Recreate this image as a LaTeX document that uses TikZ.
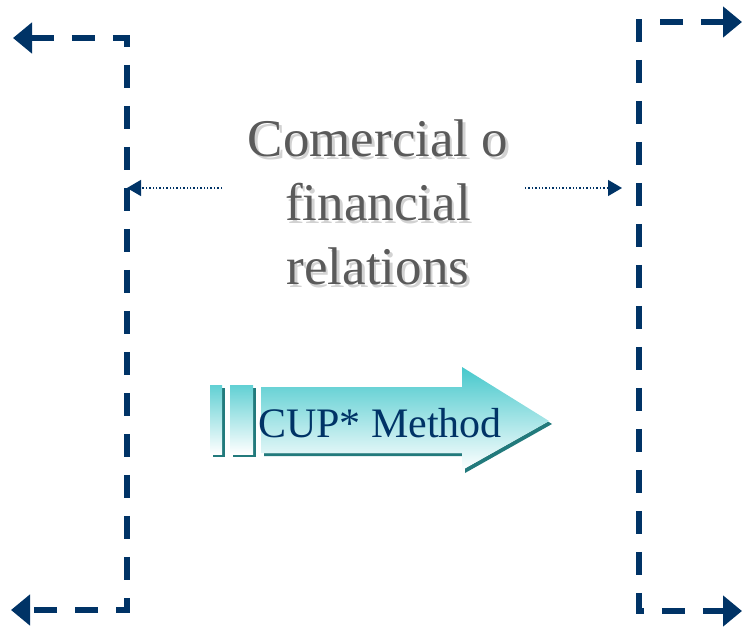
\documentclass[tikz,border=0pt]{standalone}
\usepackage{fontspec}
\setmainfont{Liberation Serif}
\usetikzlibrary{arrows.meta}

\definecolor{navy}{RGB}{0,51,102}
\definecolor{tealtop}{RGB}{70,200,204}
\definecolor{tealdark}{RGB}{34,122,124}
\definecolor{relgray}{RGB}{90,90,90}

% text with a soft grey shadow behind it
\newcommand{\shadowed}[1]{\makebox[0pt][l]{\kern2.5pt\raisebox{-2.5pt}{\color{gray!35}#1}}#1}

\tikzset{
    bracket/.style={navy, line width=5.5pt, dash pattern=on 23pt off 18pt,
        {Triangle[length=19pt,width=30pt]}-{Triangle[length=19pt,width=30pt]}},
    link/.style={navy, line width=1.4pt, dotted, -{Triangle[length=14pt,width=16pt]}},
    reltext/.style={align=center, text=relgray, font=\fontsize{53}{64}\selectfont, inner sep=0pt}
}

\begin{document}
\begin{tikzpicture}[x=1pt,y=-1pt]

        \useasboundingbox (0,0) rectangle (742,631);

        % Brackets
        \coordinate (lt) at (13,38);
        \coordinate (ltc) at (127,38);
        \coordinate (lbc) at (127,610);
        \coordinate (lb) at (11,610);
        \draw[bracket] (lt) -- (ltc) -- (lbc) -- (lb);

        \coordinate (rt) at (742,22);
        \coordinate (rtc) at (639,22);
        \coordinate (rbc) at (639,611);
        \coordinate (rb) at (742,611);
        \draw[bracket] (rt) -- (rtc) -- (rbc) -- (rb);

        % Relations label
        \node[reltext] (rel) at (378,204) {\shadowed{Comercial o}\\\shadowed{financial}\\\shadowed{relations}};

        % Dotted links
        \coordinate (linkl) at (222,188);
        \coordinate (linkltip) at (127,188);
        \coordinate (linkr) at (525,188);
        \coordinate (linkrtip) at (622,188);
        \draw[link] (linkl) -- (linkltip);
        \draw[link] (linkr) -- (linkrtip);

        % Method arrow
        \foreach \d/\c in {3/tealdark, 0/white}{
            \fill[\c] (210+\d,385+\d) rectangle (222+\d,454+\d);
            \fill[\c] (230+\d,385+\d) rectangle (253+\d,454+\d);
            \fill[\c] (261+\d,387+\d) -- (462+\d,387+\d) -- (462+\d,367+\d) -- (549+\d,421+\d)
                -- (462+\d,470+\d) -- (462+\d,453+\d) -- (261+\d,453+\d) -- cycle;
        }
        \shade[top color=tealtop!85, bottom color=white] (210,385) rectangle (222,454);
        \shade[top color=tealtop!85, bottom color=white] (230,385) rectangle (253,454);
        \shade[top color=tealtop, bottom color=white] (261,387) -- (462,387) -- (462,367) -- (549,421)
            -- (462,470) -- (462,453) -- (261,453) -- cycle;
        \node[navy, font=\fontsize{42}{48}\selectfont, inner sep=0pt] (cup) at (380,423) {CUP* Method};

    \end{tikzpicture}
\end{document}
